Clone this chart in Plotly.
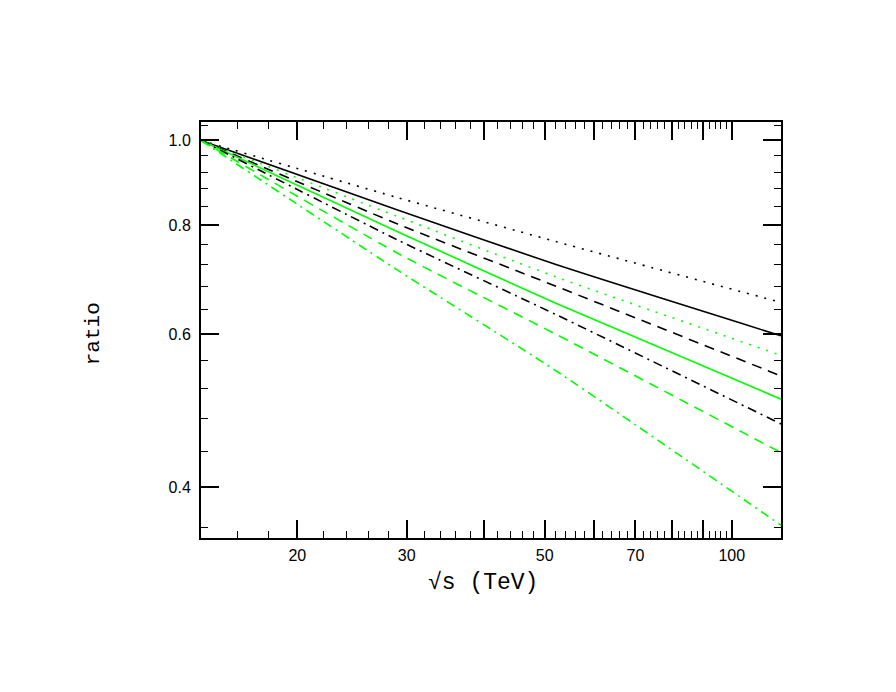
import math
import plotly.graph_objects as go

# sqrt(s) values (TeV) at which the curves were read
energy = [14, 29, 52, 120]

# ratio curves
black_dotted = [1.0, 0.860, 0.766, 0.652]
black_solid = [1.0, 0.8325, 0.721, 0.597]
green_dotted = [1.0, 0.818, 0.698, 0.567]
black_dashed = [1.0, 0.802, 0.681, 0.537]
green_solid = [1.0, 0.786, 0.651, 0.505]
black_dashdot = [1.0, 0.769, 0.632, 0.473]
green_dashed = [1.0, 0.7425, 0.600, 0.4385]
green_dashdot = [1.0, 0.710, 0.545, 0.362]

# axis ticks
x_major = [20, 30, 40, 50, 60, 70, 80, 90, 100]
x_major_text = ["20", "30", "", "50", "", "70", "", "", "100"]
x_minor = [16, 18, 22, 24, 26, 28, 32, 34, 36, 38, 42, 44, 46, 48,
           52, 54, 56, 58, 62, 64, 66, 68, 72, 74, 76, 78,
           82, 84, 86, 88, 92, 94, 96, 98]
y_major = [0.4, 0.6, 0.8, 1.0]
y_major_text = ["0.4", "0.6", "0.8", "1.0"]
y_minor = [0.36, 0.44, 0.48, 0.52, 0.56, 0.64, 0.68, 0.72, 0.76,
           0.84, 0.88, 0.92, 0.96, 1.04]

x_range = [14, 120]
y_range = [0.35, 1.05]

GREEN = "#00ff00"
BLACK = "#000000"
DOT = "2px,7px"
DASH = "10px,7px"
DASHDOT = "9px,5px,2px,5px"

series = [
    (black_dotted, BLACK, DOT),
    (black_solid, BLACK, "solid"),
    (green_dotted, GREEN, DOT),
    (black_dashed, BLACK, DASH),
    (green_solid, GREEN, "solid"),
    (black_dashdot, BLACK, DASHDOT),
    (green_dashed, GREEN, DASH),
    (green_dashdot, GREEN, DASHDOT),
]

fig = go.Figure()
for ys, color, dash in series:
    fig.add_trace(go.Scatter(x=energy, y=ys, mode="lines",
                             line=dict(color=color, width=1.6, dash=dash,
                                       shape="spline", smoothing=0.6),
                             showlegend=False, hoverinfo="skip"))

tickfont = dict(family="Liberation Sans, Arial, sans-serif", size=16, color="black")

fig.update_xaxes(type="log",
                 range=[math.log10(x_range[0]), math.log10(x_range[1])],
                 tickmode="array", tickvals=x_major, ticktext=x_major_text,
                 ticks="inside", ticklen=18, tickwidth=1.6, tickcolor="black",
                 minor=dict(tickmode="array", tickvals=x_minor, ticks="inside",
                            ticklen=7, tickwidth=1.4, tickcolor="black", showgrid=False),
                 showline=True, linecolor="black", linewidth=2, mirror="ticks",
                 showgrid=False, zeroline=False, tickfont=tickfont, ticklabelstandoff=2)
fig.update_yaxes(type="log",
                 range=[math.log10(y_range[0]), math.log10(y_range[1])],
                 tickmode="array", tickvals=y_major, ticktext=y_major_text,
                 ticks="inside", ticklen=18, tickwidth=1.6, tickcolor="black",
                 minor=dict(tickmode="array", tickvals=y_minor, ticks="inside",
                            ticklen=7, tickwidth=1.4, tickcolor="black", showgrid=False),
                 showline=True, linecolor="black", linewidth=2, mirror="ticks",
                 showgrid=False, zeroline=False, tickfont=tickfont, ticklabelstandoff=5)

titlefont_x = dict(family="Liberation Mono, Courier New, monospace", size=23, color="black")
titlefont_y = dict(family="Liberation Mono, Courier New, monospace", size=21, color="black")

fig.add_annotation(text="√s (TeV)", xref="paper", yref="paper",
                   x=0.486, y=-0.108, xanchor="center", yanchor="middle",
                   showarrow=False, font=titlefont_x)
fig.add_annotation(text="ratio", xref="paper", yref="paper",
                   x=-0.186, y=0.49, xanchor="center", yanchor="middle",
                   textangle=-90, showarrow=False, font=titlefont_y)

fig.update_layout(width=880, height=676,
                  margin=dict(l=193, r=107, t=114, b=146),
                  paper_bgcolor="white", plot_bgcolor="white")

fig.write_html("out.html")
